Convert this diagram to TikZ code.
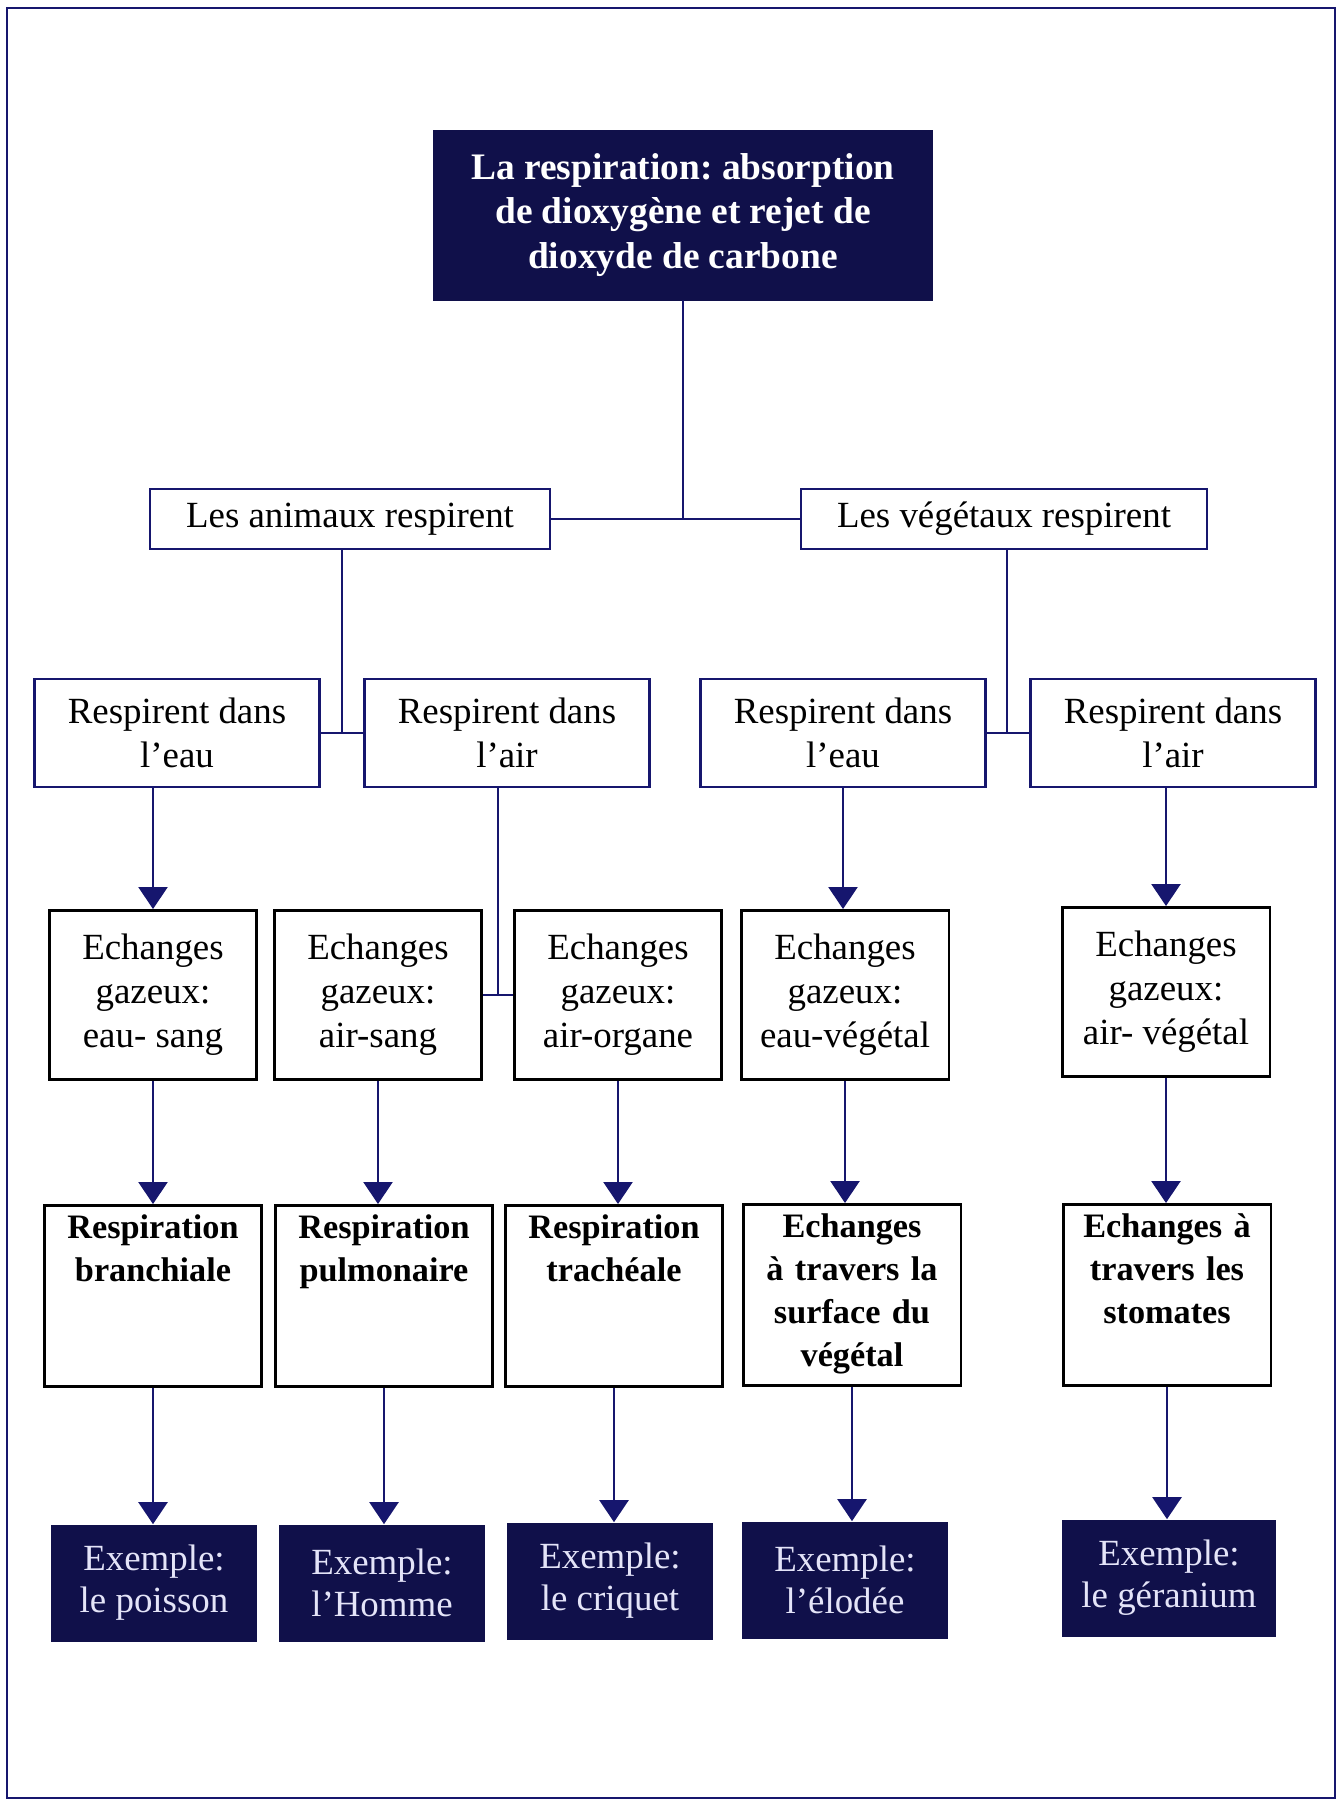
\documentclass[tikz,border=0pt]{standalone}
\usepackage{fontspec}
\setmainfont{Liberation Serif}
\usetikzlibrary{arrows.meta}
\frenchspacing

\definecolor{nuit}{RGB}{16,16,74}
\definecolor{trait}{RGB}{22,22,110}
\definecolor{lavande}{RGB}{228,228,248}

\tikzset{
    boite/.style={draw=trait, line width=1.4pt, fill=white, align=center,
                  inner sep=0.1cm, font=\fontsize{21}{25}\selectfont},
    sombre/.style={fill=nuit, draw=nuit, text=white, align=center,
                   font=\bfseries\fontsize{21.3}{25.5}\selectfont},
    milieu/.style={boite, minimum width=5.7cm, minimum height=2.16cm},
    gaz/.style={boite, draw=black, line width=1.7pt, minimum width=4.16cm, minimum height=3.38cm},
    mode/.style={gaz, font=\bfseries\fontsize{19.5}{24.5}\selectfont, text width=4.16cm,
                 text height=0.56cm, text depth=2.86cm},
    exemple/.style={fill=nuit, text=lavande, align=center, minimum width=4.12cm,
                    minimum height=2.34cm, font=\fontsize{21}{24}\selectfont},
    lien/.style={color=trait, line width=1.4pt},
    fleche/.style={lien, -{Triangle[length=0.44cm, width=0.58cm]}}
}

\begin{document}
\begin{tikzpicture}[x=0.02cm, y=-0.02cm]
    \useasboundingbox (0 , 0) rectangle (1342 , 1804);
    \draw[trait, line width=1.6pt] (7 , 8) rectangle (1335 , 1798);

    \node [sombre, minimum width=9.98cm, minimum height=3.4cm] (titre) at (683 , 215)
        {La respiration: absorption\\ de dioxygène et rejet de\\ dioxyde de carbone};

    \node [boite, minimum width=8cm, minimum height=1.2cm] (anim) at (350 , 519) {Les animaux respirent};
    \node [boite, minimum width=8.12cm, minimum height=1.2cm] (veg) at (1004 , 519) {Les végétaux respirent};

    \node [milieu] (aeau) at (177 , 733) {Respirent dans\\ l’eau};
    \node [milieu] (aair) at (507 , 733) {Respirent dans\\ l’air};
    \node [milieu] (veau) at (843 , 733) {Respirent dans\\ l’eau};
    \node [milieu] (vair) at (1173 , 733) {Respirent dans\\ l’air};

    \node [gaz] (g1) at (153 , 995) {Echanges\\ gazeux:\\ eau- sang};
    \node [gaz] (g2) at (378 , 995) {Echanges\\ gazeux:\\ air-sang};
    \node [gaz] (g3) at (618 , 995) {Echanges\\ gazeux:\\ air-organe};
    \node [gaz] (g4) at (845 , 995) {Echanges\\ gazeux:\\ eau-végétal};
    \node [gaz] (g5) at (1166 , 992) {Echanges\\ gazeux:\\ air- végétal};

    \node [mode] (r1) at (153 , 1296) {Respiration\\ branchiale};
    \node [mode] (r2) at (384 , 1296) {Respiration\\ pulmonaire};
    \node [mode] (r3) at (614 , 1296) {Respiration\\ trachéale};
    \node [mode] (r4) at (852 , 1295) {Echanges\\ à travers la\\ surface du\\ végétal};
    \node [mode, text width=3.94cm] (r5) at (1167 , 1295) {Echanges à\\ travers les\\ stomates};

    \node [exemple] (e1) at (154 , 1583) {Exemple:\\ le poisson};
    \node [exemple] (e2) at (382 , 1583) {Exemple:\\ l’Homme};
    \node [exemple] (e3) at (610 , 1581) {Exemple:\\ le criquet};
    \node [exemple] (e4) at (845 , 1580) {Exemple:\\ l’élodée};
    \node [exemple, minimum width=4.3cm] (e5) at (1169 , 1578) {Exemple:\\ le géranium};

    % points de jonction
    \coordinate (ja) at (342 , 733);
    \coordinate (jv) at (1007 , 733);
    \coordinate (jg) at (498 , 995);

    \path[lien]
        (titre) edge (titre |- anim)
        (anim) edge (veg)
        (anim.south -| ja) edge (ja)
        (veg.south -| jv) edge (jv)
        (aeau) edge (aair)
        (veau) edge (vair)
        (aair.south -| jg) edge (jg)
        (g2) edge (g3);

    \path[fleche]
        (aeau.south -| g1) edge (g1.north)
        (veau.south) edge (veau.south |- g4.north)
        (vair.south -| g5) edge (g5.north)
        (g1.south) edge (g1.south |- r1.north)
        (g2.south) edge (g2.south |- r2.north)
        (g3.south) edge (g3.south |- r3.north)
        (g4.south) edge (g4.south |- r4.north)
        (g5.south) edge (g5.south |- r5.north)
        (r1.south) edge (r1.south |- e1.north)
        (r2.south) edge (r2.south |- e2.north)
        (r3.south) edge (r3.south |- e3.north)
        (r4.south) edge (r4.south |- e4.north)
        (r5.south) edge (r5.south |- e5.north);
\end{tikzpicture}
\end{document}
